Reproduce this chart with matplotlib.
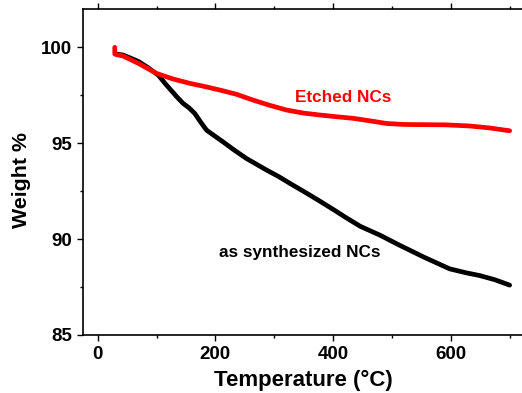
import matplotlib.pyplot as plt
from matplotlib.ticker import MultipleLocator

plt.rcParams['font.family'] = ['Liberation Sans', 'DejaVu Sans']
plt.rcParams['font.weight'] = 'bold'

# as synthesized NCs
temp_as = [32, 43, 55, 70, 85, 103, 115, 125, 135, 145, 155, 165, 175, 185,
           200, 213, 233, 253, 270, 287, 307, 327, 352, 378, 400, 423, 446,
           480, 513, 555, 598, 625, 649, 675, 700]
weight_as = [99.65, 99.6, 99.45, 99.25, 98.95, 98.55, 98.1, 97.75, 97.4,
             97.08, 96.85, 96.55, 96.1, 95.68, 95.35, 95.07, 94.62, 94.2,
             93.9, 93.6, 93.27, 92.9, 92.45, 91.97, 91.55, 91.1, 90.67,
             90.2, 89.68, 89.05, 88.45, 88.25, 88.1, 87.88, 87.6]

# etched NCs
temp_et = [29, 29, 32, 43, 70, 100, 128, 157, 183, 208, 236, 264, 292, 321,
           350, 378, 406, 434, 462, 491, 519, 547, 590, 632, 665, 700]
weight_et = [100.0, 99.65, 99.62, 99.55, 99.15, 98.64, 98.35, 98.12, 97.95,
             97.77, 97.55, 97.25, 96.98, 96.73, 96.57, 96.47, 96.38, 96.3,
             96.17, 96.03, 95.98, 95.97, 95.96, 95.9, 95.8, 95.65]

fig = plt.figure(figsize=(5.22, 3.93), dpi=100)
ax = fig.add_axes([0.159, 0.1476, 0.885, 0.8295])

ax.plot(temp_as, weight_as, color='black', lw=3.4, solid_capstyle='round')
ax.plot(temp_et, weight_et, color='red', lw=3.4, solid_capstyle='round')

ax.set_xlim(-25, 760)
ax.set_ylim(85, 102)
ax.xaxis.set_major_locator(MultipleLocator(200))
ax.xaxis.set_minor_locator(MultipleLocator(100))
ax.yaxis.set_major_locator(MultipleLocator(5))
ax.yaxis.set_minor_locator(MultipleLocator(2.5))
ax.tick_params(which='both', direction='out', top=True, right=True,
               labelsize=13.5, width=1)
ax.tick_params(which='major', length=4.5)
ax.tick_params(which='minor', length=2.5)
for s in ax.spines.values():
    s.set_linewidth(1.2)

ax.set_xlabel('Temperature (°C)', fontsize=16, fontweight='bold', va='center')
ax.xaxis.set_label_coords(0.478, -0.138)
ax.set_ylabel('Weight %', fontsize=15.4, fontweight='bold', va='center')
ax.yaxis.set_label_coords(-0.133, 0.475)

ax.text(417, 97.4, 'Etched NCs', color='red', fontsize=12.3,
        fontweight='bold', ha='center', va='center')
ax.text(344, 89.28, 'as synthesized NCs', color='black', fontsize=12.3,
        fontweight='bold', ha='center', va='center')

fig.savefig('out.png', dpi=100)
